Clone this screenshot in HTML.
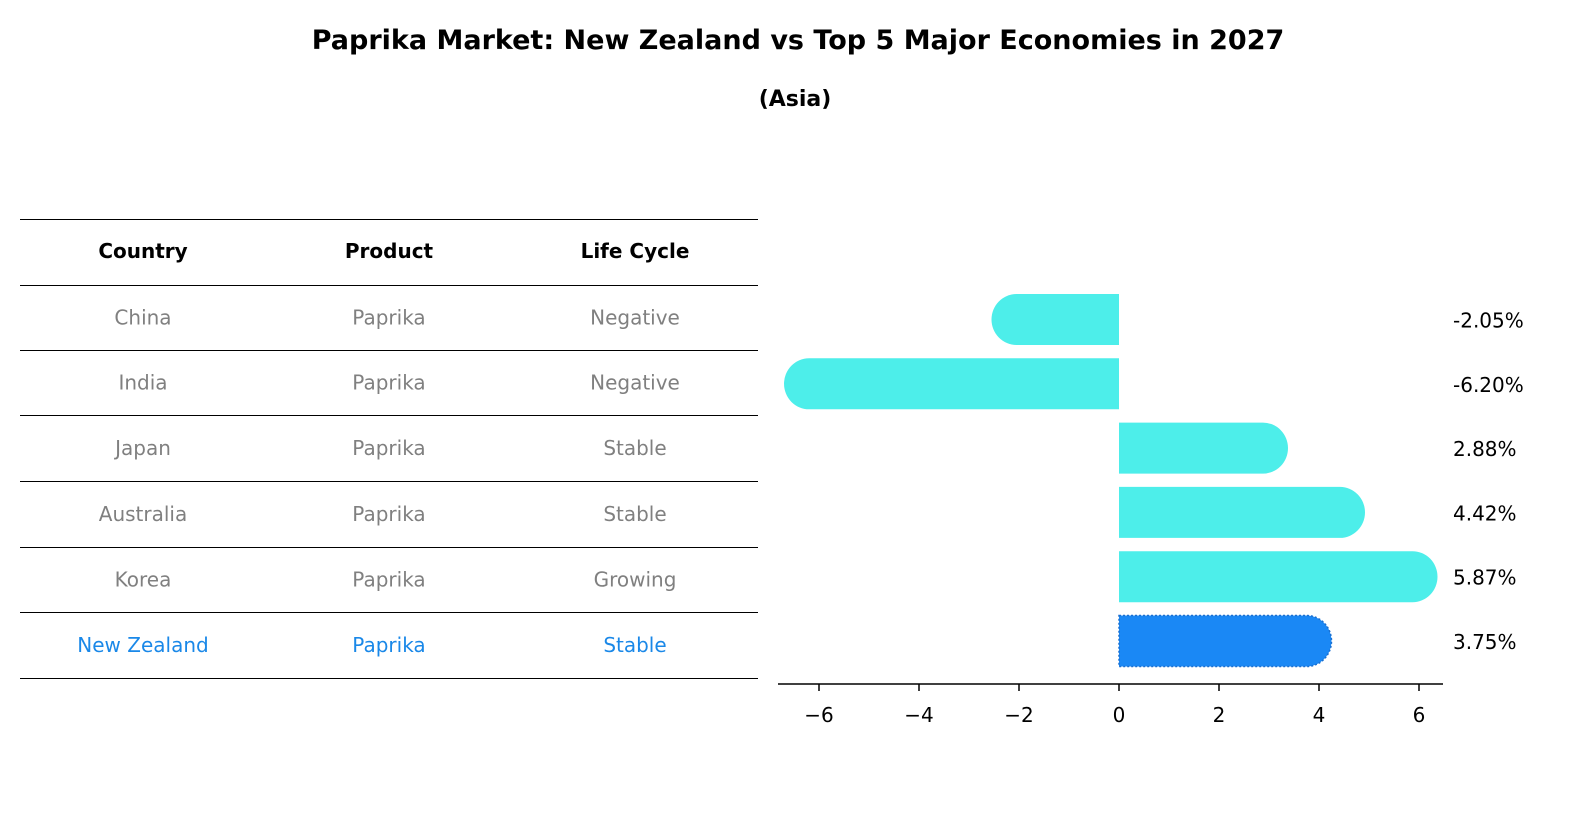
<!DOCTYPE html>
<html><head><meta charset="utf-8"><style>
body{margin:0;background:#fff;font-family:"Liberation Sans","DejaVu Sans",sans-serif}
svg{display:block}
</style></head><body>
<svg width="1596" height="823" xmlns="http://www.w3.org/2000/svg" font-family="DejaVu Sans, Liberation Sans, sans-serif">
<text x="798" y="49" text-anchor="middle" font-size="27" font-weight="bold">Paprika Market: New Zealand vs Top 5 Major Economies in 2027</text>
<text x="795" y="106" text-anchor="middle" font-size="22" font-weight="bold">(Asia)</text>
<g id="table"></g>
<g id="chart"></g>
</svg>
<script>
const countries=["China","India","Japan","Australia","Korea","New Zealand"];
const products=["Paprika","Paprika","Paprika","Paprika","Paprika","Paprika"];
const cycles=["Negative","Negative","Stable","Stable","Growing","Stable"];
const values=[-2.05,-6.20,2.88,4.42,5.87,3.75];
const ticks=[-6,-4,-2,0,2,4,6];
const NS="http://www.w3.org/2000/svg";
function mk(p,t,a){const e=document.createElementNS(NS,t);for(const k in a)e.setAttribute(k,a[k]);p.appendChild(e);return e;}
const tb=document.getElementById('table');
const lines=[219,285,350,415,481,547,612,678];
lines.forEach(y=>{const l=mk(tb,'line',{x1:20,x2:758,y1:y+0.5,y2:y+0.5,stroke:'#000','stroke-width':1,'shape-rendering':'crispEdges'});

});
const cx=[143,389,635];
["Country","Product","Life Cycle"].forEach((h,i)=>{const t=mk(tb,'text',{x:cx[i],y:258,'text-anchor':'middle','font-size':20,'font-weight':'bold'});t.textContent=h;

});
countries.forEach((c,r)=>{const y=(lines[r+1]+lines[r+2])/2+7;const col=r===5?'#1a88e8':'#808080';
[c,products[r],cycles[r]].forEach((v,i)=>{const t=mk(tb,'text',{x:cx[i],y:y,'text-anchor':'middle','font-size':20,fill:col});t.textContent=v;

});});
const ch=document.getElementById('chart');
const x0=1119,sc=50,R=25,H=51;
const X=v=>x0+v*sc;
const yc=i=>319.5+i*64.3;
values.forEach((v,i)=>{const yt=yc(i)-H/2,yb=yc(i)+H/2;const s=Math.sign(v);const xe=X(v);
const d=`M${x0},${yt} L${xe},${yt} A${R},${H/2} 0 0 ${s>0?1:0} ${xe},${yb} L${x0},${yb} Z`;
const attrs={d:d,fill:i===5?'#1a88f5':'#4deeea'};
if(i===5){attrs.stroke='#1a6fd0';attrs['stroke-dasharray']='2,2';attrs['stroke-width']=1.5;}
const p=mk(ch,'path',attrs);


const t=mk(ch,'text',{x:1453,y:yc(i)+8,'font-size':20});t.textContent=v.toFixed(2)+'%';

});
const ax=mk(ch,'line',{x1:778,x2:1443,y1:684,y2:684,stroke:'#000','stroke-width':1.5});


ticks.forEach(t=>{mk(ch,'line',{x1:X(t),x2:X(t),y1:684,y2:691,stroke:'#000','stroke-width':1.5});
const tx=mk(ch,'text',{x:X(t),y:722,'text-anchor':'middle','font-size':20});tx.textContent=t<0?'\u2212'+(-t):t;

});
</script>
</body></html>
